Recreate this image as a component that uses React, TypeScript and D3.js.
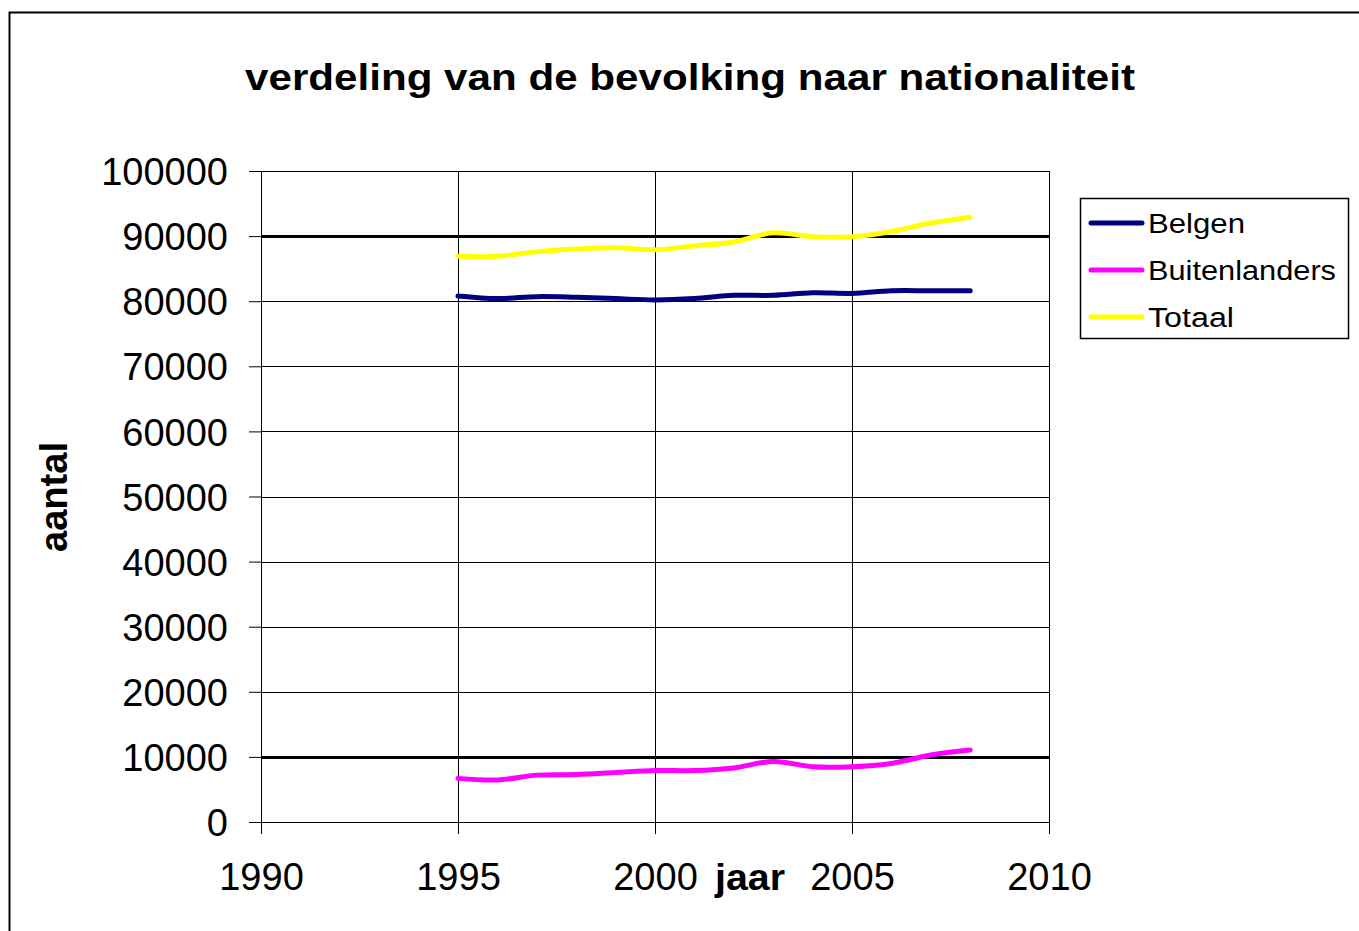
import { useEffect, useMemo, useRef } from "react";
import * as d3 from "d3";

const WIDTH = 1359;
const HEIGHT = 931;
const MARGIN = { top: 171, right: 310, bottom: 109, left: 261 };
const FONT = "'Liberation Sans', Arial, sans-serif";

const YEARS = [1995, 1996, 1997, 1998, 1999, 2000, 2001, 2002, 2003, 2004, 2005, 2006, 2007, 2008];
const BELGEN = [80800, 80400, 80700, 80600, 80400, 80200, 80400, 80900, 80900, 81300, 81200, 81600, 81600, 81600];
const BUITENLANDERS = [6700, 6450, 7200, 7300, 7600, 7900, 7900, 8300, 9300, 8500, 8500, 9000, 10300, 11050];
const TOTAAL = [86900, 86900, 87600, 88000, 88200, 87900, 88500, 89100, 90500, 89900, 89900, 90700, 92000, 92900];

const SERIES_NAMES = ["Belgen", "Buitenlanders", "Totaal"];
const SERIES_COLORS = ["#000080", "#ff00ff", "#ffff00"];
const X_TICKS = [1990, 1995, 2000, 2005, 2010];
const Y_TICKS = [0, 10000, 20000, 30000, 40000, 50000, 60000, 70000, 80000, 90000, 100000];
const THICK_GRID = [10000, 90000];

export default function App() {
  const xAxisRef = useRef<SVGGElement>(null);
  const yAxisRef = useRef<SVGGElement>(null);
  const boundsWidth = WIDTH - MARGIN.left - MARGIN.right;
  const boundsHeight = HEIGHT - MARGIN.top - MARGIN.bottom;

  const xScale = useMemo(
    () => d3.scaleLinear().domain([1990, 2010]).range([0, boundsWidth]),
    [boundsWidth]
  );
  const yScale = useMemo(
    () => d3.scaleLinear().domain([0, 100000]).range([boundsHeight, 0]),
    [boundsHeight]
  );

  const series = [BELGEN, BUITENLANDERS, TOTAAL];

  // axes drawn by d3, styled afterwards
  useEffect(() => {
    const gx = d3.select(xAxisRef.current);
    gx.selectAll("*").remove();
    gx.call(
      d3.axisBottom(xScale).tickValues(X_TICKS).tickSize(12).tickPadding(29).tickFormat(d3.format("d"))
    );
    gx.select(".domain").remove();
    gx.selectAll(".tick line").attr("stroke", "#000");
    gx.selectAll(".tick text")
      .attr("font-size", 38)
      .attr("font-family", FONT)
      .attr("fill", "#000")
      .attr("dy", "0.71em");

    const gy = d3.select(yAxisRef.current);
    gy.selectAll("*").remove();
    gy.call(
      d3.axisLeft(yScale).tickValues(Y_TICKS).tickSize(12).tickPadding(21).tickFormat(d3.format("d"))
    );
    gy.select(".domain").remove();
    gy.selectAll(".tick line").attr("stroke", "#000");
    gy.selectAll(".tick text")
      .attr("font-size", 38)
      .attr("font-family", FONT)
      .attr("fill", "#000")
      .attr("dy", "0.36em");
  }, [xScale, yScale]);

  const line = d3
    .line<number>()
    .x((_, i) => xScale(YEARS[i]))
    .y((d) => yScale(d))
    .curve(d3.curveCatmullRom.alpha(0.5));

  return (
    <svg
      width={WIDTH}
      height={HEIGHT}
      style={{ position: "absolute", left: 0, top: 0, background: "#fff" }}
    >
      <rect x={0} y={0} width={WIDTH} height={HEIGHT} fill="#fff" />
      {/* chart frame, only top and left fall inside the picture */}
      <rect x={9.5} y={12.5} width={WIDTH + 20} height={HEIGHT + 20} fill="none" stroke="#000" strokeWidth={2} />

      <text
        x={690}
        y={90}
        textAnchor="middle"
        fontFamily={FONT}
        fontWeight="bold"
        fontSize={36}
        textLength={890}
        lengthAdjust="spacingAndGlyphs"
      >
        verdeling van de bevolking naar nationaliteit
      </text>

      <g transform={`translate(${MARGIN.left},${MARGIN.top})`}>
        {Y_TICKS.map((t) => (
          <line
            key={"h" + t}
            x1={0}
            x2={boundsWidth}
            y1={Math.round(yScale(t)) + 0.5}
            y2={Math.round(yScale(t)) + 0.5}
            stroke="#000"
            strokeWidth={THICK_GRID.includes(t) ? 3 : 1}
          />
        ))}
        {X_TICKS.map((t) => (
          <line
            key={"v" + t}
            x1={Math.round(xScale(t)) + 0.5}
            x2={Math.round(xScale(t)) + 0.5}
            y1={0}
            y2={boundsHeight}
            stroke="#000"
            strokeWidth={1}
          />
        ))}
        {series.map((s, i) => (
          <path
            key={SERIES_NAMES[i]}
            d={line(s) ?? ""}
            fill="none"
            stroke={SERIES_COLORS[i]}
            strokeWidth={5}
            strokeLinecap="round"
            strokeLinejoin="round"
          />
        ))}
        <g ref={xAxisRef} transform={`translate(0,${boundsHeight})`} />
        <g ref={yAxisRef} />
      </g>

      <text
        x={750}
        y={890}
        textAnchor="middle"
        fontFamily={FONT}
        fontWeight="bold"
        fontSize={36}
        textLength={70}
        lengthAdjust="spacingAndGlyphs"
      >
        jaar
      </text>
      <text
        transform="translate(67,497) rotate(-90)"
        textAnchor="middle"
        fontFamily={FONT}
        fontWeight="bold"
        fontSize={38}
        textLength={110}
        lengthAdjust="spacingAndGlyphs"
      >
        aantal
      </text>

      {/* legend */}
      <g>
        <rect x={1080.5} y={198.5} width={268} height={140} fill="#fff" stroke="#000" strokeWidth={1.5} />
        {SERIES_NAMES.map((name, i) => {
          const cy = 223 + i * 47;
          return (
            <g key={name}>
              <line x1={1091} x2={1142} y1={cy} y2={cy} stroke={SERIES_COLORS[i]} strokeWidth={5} strokeLinecap="round" />
              <text
                x={1148}
                y={cy + 10}
                fontFamily={FONT}
                fontSize={27}
                textLength={[97, 188, 86][i]}
                lengthAdjust="spacingAndGlyphs"
              >
                {name}
              </text>
            </g>
          );
        })}
      </g>
    </svg>
  );
}
